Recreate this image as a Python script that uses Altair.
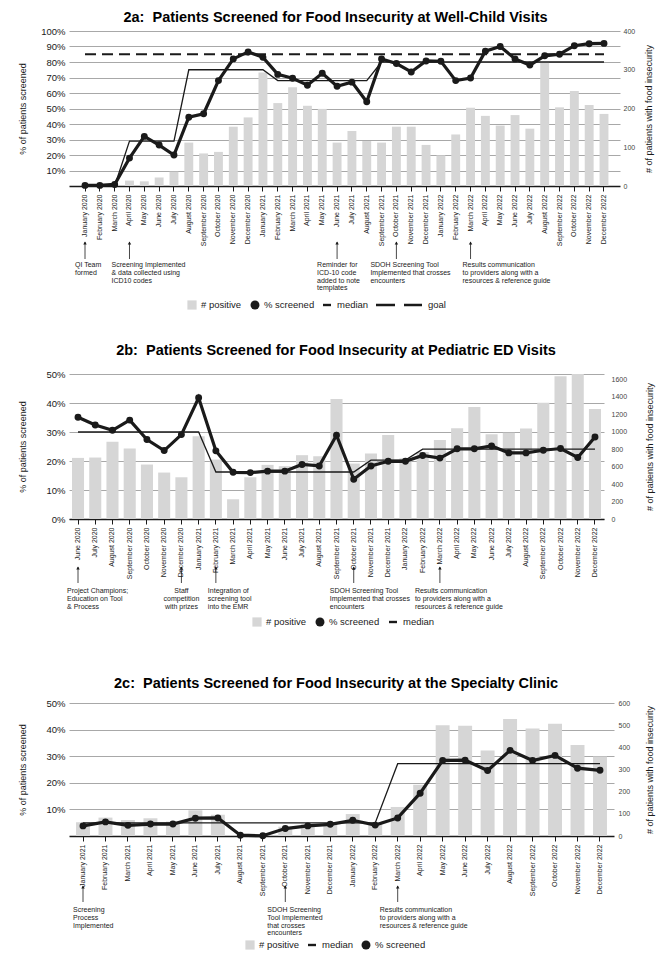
import altair as alt
import pandas as pd

FONT = "Liberation Sans"
INK = "#1a1a1a"
BAR = "#d6d6d6"

MONTH_NAMES = ["January", "February", "March", "April", "May", "June", "July",
               "August", "September", "October", "November", "December"]
months_a = [f"{m} {y}" for y in (2020, 2021, 2022) for m in MONTH_NAMES]
months_b = months_a[5:]
months_c = months_a[12:]

# ---------- 2a: Well-child visits ----------
screened_a = [0.4, 0.4, 1, 18, 32, 26.4, 20, 44.4, 46.6, 68, 82, 86.5,
              83, 72, 69.5, 65, 72.7, 64.4, 67, 54.3, 82, 79, 73.6, 80.7,
              80.5, 68, 69.7, 87, 90, 82, 78, 84, 85, 90.5, 91.8, 92]
positive_a = [0, 0, 0, 14, 12, 22, 37, 112, 84, 88, 153, 177,
              293, 214, 255, 207, 199, 112, 142, 116, 112, 153, 153, 106,
              79, 133, 202, 181, 156, 183, 148, 320, 203, 245, 209, 186]
median_a = [0, 0, 0, 29, 29, 29, 29, 75, 75, 75, 75, 75,
            75, 68, 68, 68, 68, 68, 68, 68, 80, 80, 80, 80,
            80, 80, 80, 80, 80, 80, 80, 80, 80, 80, 80, 80]
goal_a = [85] * 36

# ---------- 2b: Pediatric ED visits ----------
screened_b = [35.1, 32.4, 30.6, 34.1, 27.4, 23.6, 29.1,
              41.8, 23.5, 16.1, 16.0, 16.5, 16.5, 18.8, 18.3, 28.9, 13.7, 18.3, 19.9,
              19.9, 21.9, 21.0, 24.2, 24.2, 25.2, 22.8, 22.8, 23.7, 24.3, 21.2, 28.3]
positive_b = [700, 704, 884, 808, 624, 532, 478,
              949, 681, 226, 478, 620, 605, 731, 720, 1374, 635, 750, 961,
              695, 768, 904, 1039, 1282, 972, 988, 1037, 1332, 1634, 1700, 1259]
median_b = [30] * 8 + [16.2] * 9 + [20.3] * 3 + [24.1] * 11

# ---------- 2c: Specialty clinic ----------
screened_c = [3.8, 5.3, 4.0, 4.5, 4.5, 6.7, 6.8, 0.3, 0.1, 2.8, 3.8, 4.4,
              5.9, 4.1, 6.8, 16.1, 28.4, 28.5, 24.6, 32.2, 28.4, 30.3, 25.5, 24.7]
positive_c = [62, 83, 72, 80, 65, 116, 96, 0, 0, 42, 54, 60,
              99, 57, 131, 231, 500, 497, 386, 528, 485, 506, 410, 359]
median_c = [4.9] * 14 + [27.2] * 10

# annotations: (anchor month, text lines)
notes_a = [("January 2020", ["QI Team", "formed"]),
           ("April 2020", ["Screening Implemented", "& data collected using", "ICD10 codes"]),
           ("June 2021", ["Reminder for", "ICD-10 code", "added to note", "templates"]),
           ("October 2021", ["SDOH Screening Tool", "Implemented that crosses", "encounters"]),
           ("March 2022", ["Results communication", "to providers along with a", "resources & reference guide"])]
notes_b = [("June 2020", ["Project Champions;", "Education on Tool", "& Process"]),
           ("December 2020", ["Staff", "competition", "with prizes"]),
           ("February 2021", ["Integration of", "screening tool", "into the EMR"]),
           ("October 2021", ["SDOH Screening Tool", "Implemented that crosses", "encounters"]),
           ("March 2022", ["Results communication", "to providers along with a", "resources & reference guide"])]
notes_c = [("January 2021", ["Screening", "Process", "Implemented"]),
           ("October 2021", ["SDOH Screening", "Tool Implemented", "that crosses", "encounters"]),
           ("March 2022", ["Results communication", "to providers along with a", "resources & reference guide"])]

# text placement for each annotation (dx from arrow, alignment)
place_a = [(-10, "left"), (-18, "left"), (-20, "left"), (-26, "left"), (-8, "left")]
place_b = [(-11, "left"), (0, "center"), (-8, "left"), (-24, "left"), (-25, "left")]
place_c = [(-10, "left"), (-18, "left"), (-18, "left")]


def build_panel(title, months, screened, positive, median, goal, *, width, height,
                pad_inner, pad_outer, left_max, left_ticks, right_max, right_ticks,
                right_title_x, right_label_pad, title_offset, notes, place,
                arrow, text_y, legend, legend_y, extra_bottom=0):
    df = pd.DataFrame({"month": months,
                       "screened": [v / 100 for v in screened],
                       "positive": positive,
                       "median": [v / 100 for v in median]})
    if goal is not None:
        df["goal"] = [v / 100 for v in goal]

    x = alt.X("month:N", sort=months,
              scale=alt.Scale(domain=months, paddingInner=pad_inner, paddingOuter=pad_outer),
              axis=alt.Axis(title=None, labelAngle=270, labelFontSize=7, labelFont=FONT,
                            labelColor=INK, labelPadding=3, tickColor=INK, tickSize=5,
                            tickWidth=1, domainColor=INK, domainWidth=1.4,
                            labelOverlap=False, grid=False))
    left_axis = alt.Axis(orient="left", format=".0%", values=left_ticks, grid=True,
                         gridColor="#a8a8a8", gridWidth=1, domain=False, ticks=False,
                         labelFontSize=9.5, labelFont=FONT, labelColor=INK, labelPadding=4,
                         title="% of patients screened", titleFontSize=9, titleFont=FONT,
                         titleFontWeight="normal", titleColor=INK, titleX=-47,
                         titleY=height / 2, titleAngle=270, titleBaseline="middle",
                         titleAlign="center")
    yscale = alt.Scale(domain=[0, left_max], nice=False, zero=True)

    bars = alt.Chart(df).mark_bar(color=BAR, clip=True).encode(
        x=x,
        y=alt.Y("positive:Q", scale=alt.Scale(domain=[0, right_max], nice=False),
                axis=alt.Axis(orient="right", values=right_ticks, format="d", grid=False,
                              domain=False, ticks=False, labelFontSize=7, labelFont=FONT,
                              labelColor="#444", labelPadding=right_label_pad,
                              title="# of patients with food insecurity", titleFontSize=9,
                              titleFont=FONT, titleFontWeight="normal", titleColor=INK,
                              titleX=right_title_x, titleY=height / 2, titleAngle=270,
                              titleBaseline="middle", titleAlign="center")))

    lines = [alt.Chart(df).mark_line(color=INK, strokeWidth=1.3).encode(
        x=x, y=alt.Y("median:Q", scale=yscale, axis=left_axis))]
    if goal is not None:
        lines.append(alt.Chart(df).mark_line(color=INK, strokeWidth=2, strokeDash=[11, 6]).encode(
            x=x, y=alt.Y("goal:Q", scale=yscale, axis=left_axis)))
    lines.append(alt.Chart(df).mark_line(color=INK, strokeWidth=3.2).encode(
        x=x, y=alt.Y("screened:Q", scale=yscale, axis=left_axis)))
    lines.append(alt.Chart(df).mark_circle(color=INK, size=48, opacity=1).encode(
        x=x, y=alt.Y("screened:Q", scale=yscale, axis=left_axis)))

    extras = []
    for (month, text), (dx, align) in zip(notes, place):
        one = pd.DataFrame({"month": [month]})
        extras.append(alt.Chart(one).mark_rule(color=INK, strokeWidth=0.8).encode(
            x=x, y=alt.value(height + arrow[0]), y2=alt.value(height + arrow[1])))
        extras.append(alt.Chart(one).mark_point(shape="triangle-up", filled=True, size=12,
                                                color=INK, opacity=1).encode(
            x=x, y=alt.value(height + arrow[0] + 1)))
        extras.append(alt.Chart(one).mark_text(align=align, baseline="top", fontSize=7,
                                               lineHeight=7.8, font=FONT, fill=INK, dx=dx).encode(
            x=x, y=alt.value(height + text_y), text=alt.value(text)))

    blank = pd.DataFrame({"k": [0]})
    ly = height + legend_y
    for kind, label, px in legend:
        if kind == "bar":
            extras.append(alt.Chart(blank).mark_square(size=85, color=BAR, opacity=1).encode(
                x=alt.value(px), y=alt.value(ly)))
            tx = px + 9
        elif kind == "dot":
            extras.append(alt.Chart(blank).mark_circle(size=80, color=INK, opacity=1).encode(
                x=alt.value(px), y=alt.value(ly)))
            tx = px + 9
        elif kind == "median":
            extras.append(alt.Chart(blank).mark_rule(color=INK, strokeWidth=2.4).encode(
                x=alt.value(px - 4), x2=alt.value(px + 4), y=alt.value(ly)))
            tx = px + 10
        else:
            extras.append(alt.Chart(blank).mark_rule(color=INK, strokeWidth=2.4,
                                                     strokeDash=[19, 9]).encode(
                x=alt.value(px - 23), x2=alt.value(px + 23), y=alt.value(ly)))
            tx = px + 29
        extras.append(alt.Chart(blank).mark_text(align="left", baseline="middle", fontSize=9.5,
                                                 font=FONT, fill=INK).encode(
            x=alt.value(tx), y=alt.value(ly), text=alt.value(label)))
    if extra_bottom:
        extras.append(alt.Chart(blank).mark_point(opacity=0).encode(
            x=alt.value(width / 2), y=alt.value(ly + extra_bottom)))

    chart = alt.layer(bars, alt.layer(*lines), *extras).resolve_scale(y="independent")
    return chart.properties(
        width=width, height=height,
        title=alt.TitleParams(title, fontSize=14.5, font=FONT, fontWeight="bold", color="#000",
                              anchor="middle", frame="bounds", offset=title_offset))


pct = lambda hi: [round(v / 100, 2) for v in range(10, hi + 1, 10)]

panel_a = build_panel(
    "2a:\u00a0 Patients Screened for Food Insecurity at Well-Child Visits",
    months_a, screened_a, positive_a, median_a, goal_a,
    width=551, height=155, pad_inner=0.4, pad_outer=0.779,
    left_max=1.0, left_ticks=pct(100), right_max=400, right_ticks=[0, 100, 200, 300, 400],
    right_title_x=28, right_label_pad=3, title_offset=1,
    notes=notes_a, place=place_a, arrow=(56, 73), text_y=75,
    legend=[("bar", "# positive", 123), ("dot", "% screened", 186),
            ("median", "median", 258), ("goal", "goal", 330)],
    legend_y=119)

panel_b = build_panel(
    "2b:\u00a0 Patients Screened for Food Insecurity at Pediatric ED Visits",
    months_b, screened_b, positive_b, median_b, None,
    width=535, height=145, pad_inner=0.3, pad_outer=0.173,
    left_max=0.5, left_ticks=[0, 0.1, 0.2, 0.3, 0.4, 0.5], right_max=1661,
    right_ticks=[0, 200, 400, 600, 800, 1000, 1200, 1400, 1600],
    right_title_x=45, right_label_pad=7, title_offset=11,
    notes=notes_b, place=place_b, arrow=(48, 64), text_y=68,
    legend=[("bar", "# positive", 188), ("dot", "% screened", 251),
            ("median", "median", 324)],
    legend_y=103, extra_bottom=18)

panel_c = build_panel(
    "2c:\u00a0 Patients Screened for Food Insecurity at the Specialty Clinic",
    months_c, screened_c, positive_c, median_c, None,
    width=545, height=133, pad_inner=0.38, pad_outer=0.313,
    left_max=0.5, left_ticks=[0.1, 0.2, 0.3, 0.4, 0.5], right_max=600,
    right_ticks=[0, 100, 200, 300, 400, 500, 600],
    right_title_x=35, right_label_pad=4, title_offset=7,
    notes=notes_c, place=place_c, arrow=(50, 66), text_y=70,
    legend=[("bar", "# positive", 181), ("median", "median", 243),
            ("dot", "% screened", 297)],
    legend_y=109)

chart = alt.vconcat(panel_a, panel_b, panel_c, spacing=32).properties(
    padding={"left": 10, "top": 1, "right": 5, "bottom": 0}
).configure(font=FONT, background="white").configure_view(stroke=None)

chart.save("out.html", embed_options={"renderer": "svg", "actions": False})
